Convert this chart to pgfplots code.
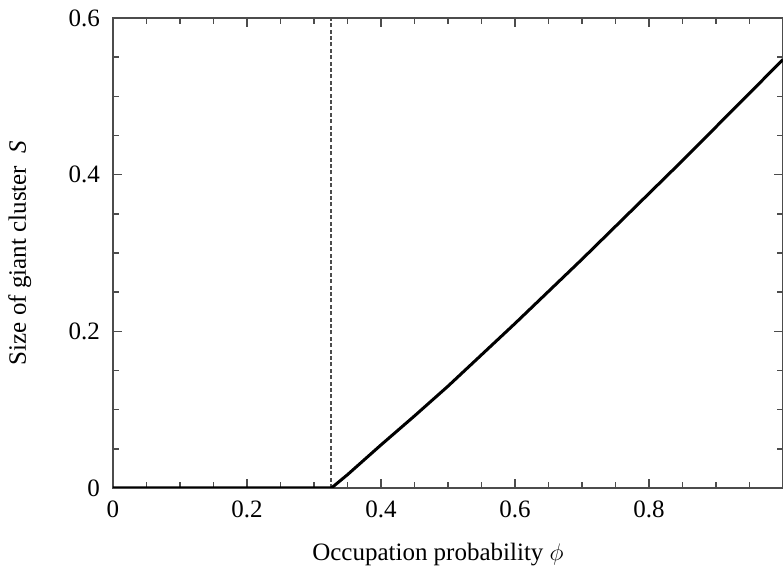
\documentclass[border=0pt]{standalone}
\usepackage{pgfplots}
\pgfplotsset{compat=1.18}
\usepackage{fontspec}
\setmainfont{Liberation Serif}

\begin{document}
\begin{tikzpicture}
  \begin{axis}[
      name=ax,
      scale only axis,
      width=335pt, height=235pt,
      xmin=0, xmax=1,
      ymin=0, ymax=0.6,
      xtick={0,0.2,0.4,0.6,0.8,1},
      xticklabels={0,0.2,0.4,0.6,0.8,},
      ytick={0,0.2,0.4,0.6},
      minor x tick num=3,
      minor y tick num=3,
      tick align=inside,
      major tick length=4.5pt,
      minor tick length=2.8pt,
      axis line style={draw=black!70, line width=1pt},
      every tick/.style={draw=black!70, line width=0.8pt},
      /pgf/number format/assume math mode=true,
      /pgf/number format/fixed,
      tick label style={font=\fontsize{12.5}{15}\selectfont},
      x tick label style={yshift=-3pt},
      y tick label style={xshift=-3pt},
      label style={font=\fontsize{12.5}{15}\selectfont},
      xlabel={Occupation probability $\phi$},
      ylabel={Size of giant cluster \ \textit{S}},
      xlabel style={at={(axis description cs:0.485,-0.1426)}, anchor=center},
      ylabel style={at={(axis description cs:-0.139,0.5)}, anchor=center},
    ]
    % threshold
    \addplot[black!70, dash pattern=on 2pt off 1.2pt, line width=0.9pt]
      coordinates {(0.325,0) (0.325,0.6)};
    % giant cluster size
    \addplot[black, line width=1.5pt]
      coordinates {
        (0,0) (0.326,0)
        (0.35,0.017) (0.4,0.055) (0.45,0.092) (0.5,0.130)
        (0.55,0.170) (0.6,0.210) (0.65,0.251) (0.7,0.292)
        (0.75,0.334) (0.8,0.376) (0.85,0.418) (0.9,0.461)
        (0.95,0.504) (1.0,0.547)
      };
  \end{axis}
  \pgfresetboundingbox
  \path ([xshift=-56.5pt,yshift=-42.5pt]ax.south west) rectangle ([yshift=9pt]ax.north east);
\end{tikzpicture}
\end{document}
